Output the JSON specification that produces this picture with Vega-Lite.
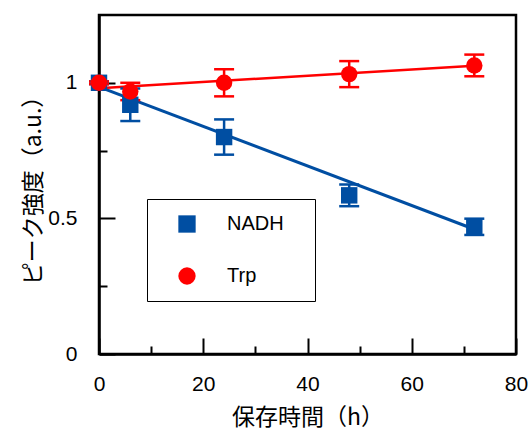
{
  "$schema": "https://vega.github.io/schema/vega-lite/v6.json",
  "width": 417,
  "height": 339,
  "autosize": {"type": "none"},
  "padding": {"left": 99, "top": 15, "right": 14, "bottom": 78},
  "background": "white",
  "config": {
    "view": {"stroke": "black", "strokeWidth": 2.5},
    "axis": {
      "domainColor": "black", "domainWidth": 2.5, "tickColor": "black", "tickWidth": 2,
      "grid": false, "labelFont": "Liberation Sans", "labelFontSize": 21, "labelColor": "black",
      "titleFont": "Noto Sans CJK JP", "titleFontSize": 23, "titleFontWeight": "normal", "titleColor": "black"
    },
    "legend": {
      "strokeColor": "black", "strokeWidth": 1, "fillColor": "white", "padding": 15,
      "symbolOffset": 15, "labelOffset": 30, "rowPadding": 32, "labelFontSize": 20,
      "labelFont": "Liberation Sans", "labelColor": "black", "symbolSize": 300
    }
  },
  "datasets": {
    "pts": [
      {"series": "NADH", "t": 0, "y": 1.0, "lo": 0.995, "hi": 1.005},
      {"series": "NADH", "t": 6, "y": 0.919, "lo": 0.859, "hi": 0.979},
      {"series": "NADH", "t": 24, "y": 0.80, "lo": 0.735, "hi": 0.865},
      {"series": "NADH", "t": 48, "y": 0.585, "lo": 0.545, "hi": 0.625},
      {"series": "NADH", "t": 72, "y": 0.469, "lo": 0.439, "hi": 0.499},
      {"series": "Trp", "t": 0, "y": 1.0, "lo": 0.995, "hi": 1.005},
      {"series": "Trp", "t": 6, "y": 0.968, "lo": 0.936, "hi": 1.0},
      {"series": "Trp", "t": 24, "y": 1.0, "lo": 0.95, "hi": 1.05},
      {"series": "Trp", "t": 48, "y": 1.032, "lo": 0.984, "hi": 1.08},
      {"series": "Trp", "t": 72, "y": 1.064, "lo": 1.024, "hi": 1.104}
    ],
    "fit": [
      {"series": "NADH", "t": 0, "y": 0.985},
      {"series": "NADH", "t": 72, "y": 0.46},
      {"series": "Trp", "t": 0, "y": 0.98},
      {"series": "Trp", "t": 72, "y": 1.063}
    ]
  },
  "layer": [
    {
      "data": {"name": "fit"},
      "transform": [{"filter": "datum.series === 'NADH'"}],
      "mark": {"type": "line", "strokeWidth": 3, "color": "#004EA2"},
      "encoding": {
        "x": {"field": "t", "type": "quantitative", "scale": {"domain": [0, 80], "nice": false},
          "axis": {"values": [0, 10, 20, 30, 40, 50, 60, 70, 80], "title": "保存時間（h）",
            "labelExpr": "datum.value % 20 === 0 ? datum.label : ''",
            "tickSize": {"condition": {"test": "datum.value % 20 === 0", "value": -16}, "value": -8},
            "labelPadding": 35, "titlePadding": 12, "labelFlush": false}},
        "y": {"field": "y", "type": "quantitative", "scale": {"domain": [0, 1.25], "nice": false, "zero": false},
          "axis": {"values": [0, 0.25, 0.5, 0.75, 1], "title": "ピーク強度（a.u.）", "format": "~g",
            "labelExpr": "datum.value % 0.5 === 0 ? datum.label : ''",
            "tickSize": {"condition": {"test": "datum.value % 0.5 === 0", "value": -16}, "value": -8},
            "labelPadding": 38, "titlePadding": 2, "labelFlush": false}}
      }
    },
    {
      "data": {"name": "fit"},
      "transform": [{"filter": "datum.series === 'Trp'"}],
      "mark": {"type": "line", "strokeWidth": 2.5, "color": "#FF0000"},
      "encoding": {
        "x": {"field": "t", "type": "quantitative"},
        "y": {"field": "y", "type": "quantitative"}
      }
    },
    {
      "data": {"name": "pts"},
      "transform": [{"filter": "datum.series === 'NADH'"}],
      "mark": {"type": "rule", "strokeWidth": 2.5, "color": "#004EA2"},
      "encoding": {
        "x": {"field": "t", "type": "quantitative"},
        "y": {"field": "lo", "type": "quantitative"},
        "y2": {"field": "hi"}
      }
    },
    {
      "data": {"name": "pts"},
      "transform": [{"filter": "datum.series === 'Trp'"}],
      "mark": {"type": "rule", "strokeWidth": 2.5, "color": "#FF0000"},
      "encoding": {
        "x": {"field": "t", "type": "quantitative"},
        "y": {"field": "lo", "type": "quantitative"},
        "y2": {"field": "hi"}
      }
    },
    {
      "data": {"name": "pts"},
      "transform": [{"filter": "datum.series === 'NADH'"}, {"fold": ["lo", "hi"], "as": ["k", "v"]}],
      "mark": {"type": "point", "shape": "M-1,0H1", "filled": false, "size": 400, "strokeWidth": 2.5, "opacity": 1, "color": "#004EA2"},
      "encoding": {
        "x": {"field": "t", "type": "quantitative"},
        "y": {"field": "v", "type": "quantitative"}
      }
    },
    {
      "data": {"name": "pts"},
      "transform": [{"filter": "datum.series === 'Trp'"}, {"fold": ["lo", "hi"], "as": ["k", "v"]}],
      "mark": {"type": "point", "shape": "M-1,0H1", "filled": false, "size": 400, "strokeWidth": 2.5, "opacity": 1, "color": "#FF0000"},
      "encoding": {
        "x": {"field": "t", "type": "quantitative"},
        "y": {"field": "v", "type": "quantitative"}
      }
    },
    {
      "data": {"name": "pts"},
      "mark": {"type": "point", "filled": true, "opacity": 1, "size": 270, "clip": false},
      "encoding": {
        "x": {"field": "t", "type": "quantitative"},
        "y": {"field": "y", "type": "quantitative"},
        "color": {"field": "series", "type": "nominal",
          "scale": {"domain": ["NADH", "Trp"], "range": ["#004EA2", "#FF0000"]},
          "legend": {"orient": "none", "legendX": 48, "legendY": 184, "title": "__",
            "titleOrient": "right", "titleOpacity": 0, "titleFontSize": 10, "titlePadding": 4}},
        "shape": {"field": "series", "type": "nominal",
          "scale": {"domain": ["NADH", "Trp"], "range": ["square", "circle"]}}
      }
    }
  ]
}
